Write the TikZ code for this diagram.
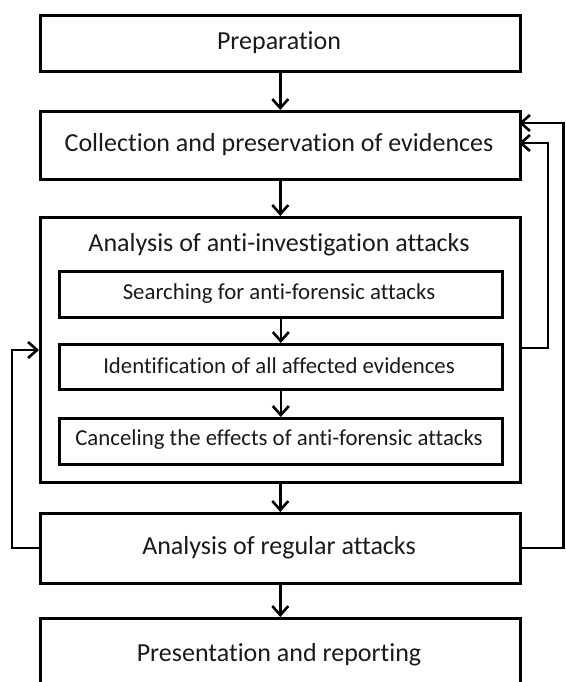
\documentclass[tikz,border=0pt]{standalone}
\usepackage{fontspec}
\setmainfont{Carlito}[Ligatures=NoCommon]
\usetikzlibrary{arrows.meta}
\definecolor{txtcol}{HTML}{1A1A1A}
\tikzset{
  box/.style={draw, line width=2.6pt, rectangle, inner sep=0pt, anchor=north west},
  bigtxt/.style={font=\fontsize{26}{30}\selectfont, text=txtcol},
  smalltxt/.style={font=\fontsize{22.8}{27}\selectfont, text=txtcol},
  conn/.style={line width=2.6pt, -{Straight Barb[length=9pt,width=16pt,line width=2.6pt]}},
  plain/.style={line width=2.6pt}
}
\begin{document}
\begin{tikzpicture}[x=1pt,y=-1pt]
\useasboundingbox (0,0) rectangle (565,682);
\clip (0,0) rectangle (565,682);
% main boxes
\node[box, minimum width=480pt, minimum height=56pt] (prep) at (39,14) {};
\node[bigtxt] (preptxt) at (279,43) {Preparation};
\node[box, minimum width=480pt, minimum height=68pt] (coll) at (39,110) {};
\node[bigtxt] (colltxt) at (279,145) {Collection and preservation of evidences};
\node[box, minimum width=480pt, minimum height=265pt] (outer) at (39,216) {};
\node[bigtxt] (outertxt) at (279,245) {Analysis of anti-investigation attacks};
\node[box, minimum width=443pt, minimum height=46pt] (in1) at (58,270) {};
\node[smalltxt] (in1txt) at (279,294) {Searching for anti-forensic attacks};
\node[box, minimum width=443pt, minimum height=45pt] (in2) at (58,343) {};
\node[smalltxt] (in2txt) at (279,366) {Identification of all affected evidences};
\node[box, minimum width=443pt, minimum height=46pt] (in3) at (58,417) {};
\node[smalltxt] (in3txt) at (279,440) {Canceling the effects of anti-forensic attacks};
\node[box, minimum width=480pt, minimum height=70pt] (reg) at (39,512) {};
\node[bigtxt] (regtxt) at (279,548) {Analysis of regular attacks};
\node[box, minimum width=480pt, minimum height=90pt] (pres) at (39,617) {};
\node[bigtxt] (prestxt) at (279,655) {Presentation and reporting};
% vertical arrows
\draw[conn] (prep.south) -- (coll.north);
\draw[conn] (coll.south) -- (outer.north);
\draw[conn] (in1.south) -- (in2.north);
\draw[conn] (in2.south) -- (in3.north);
\draw[conn] (outer.south) -- (reg.north);
\draw[conn] (reg.south) -- (pres.north);
% feedback loops
\coordinate (fa1) at (519,123);
\coordinate (fa2) at (519,143);
\draw[conn] (reg.east |- 0,548) -| (563.5,123) -- (fa1);
\draw[conn] (outer.east |- 0,348) -| (548,143) -- (fa2);
\draw[conn] (reg.west |- 0,548) -| (12,350) -- (outer.west |- 0,350);
\end{tikzpicture}
\end{document}
